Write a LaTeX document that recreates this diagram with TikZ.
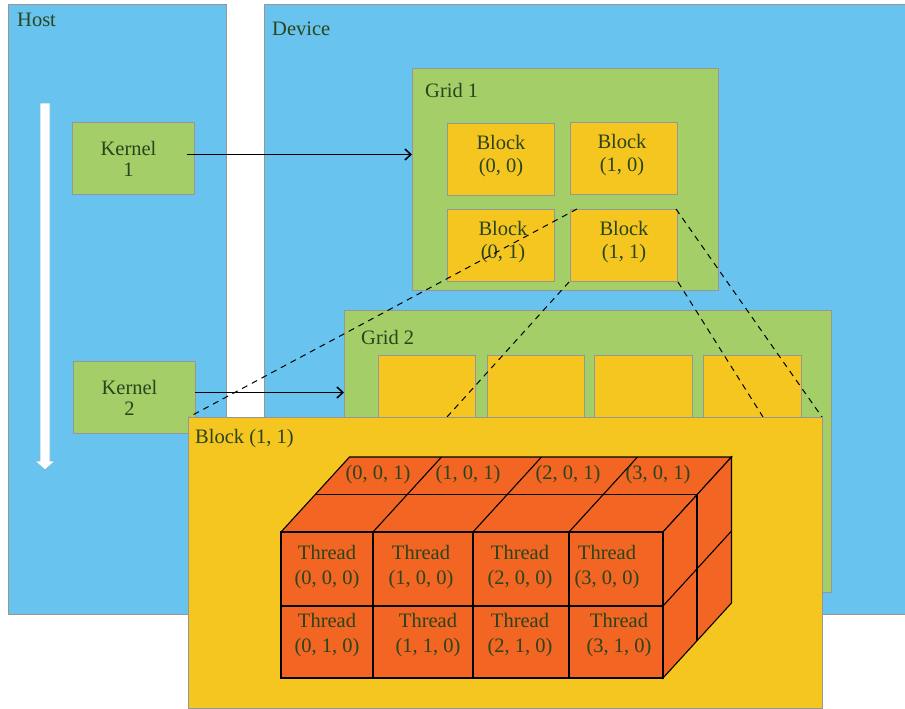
\documentclass[tikz,border=0pt]{standalone}
\usepackage{fontspec}
\setmainfont{Liberation Serif}
\usetikzlibrary{arrows.meta,calc}

\definecolor{skyfill}{RGB}{104,195,238}
\definecolor{leaf}{RGB}{163,206,104}
\definecolor{gold}{RGB}{246,198,32}
\definecolor{tangerine}{RGB}{242,101,34}
\definecolor{edgegray}{RGB}{150,150,150}
\definecolor{ink}{RGB}{42,68,28}
\definecolor{arrowrim}{RGB}{120,190,220}

\begin{document}
\begin{tikzpicture}[x=1pt,y=-1pt,
  region/.style={draw=edgegray, line width=1pt, inner sep=0pt, anchor=north west},
  sized/.style 2 args={minimum width=#1, minimum height=#2},
  lbl/.style={text=ink, inner sep=0pt, font=\fontsize{20.5}{23}\selectfont},
  boxtext/.style={text=ink, align=center, font=\fontsize{20.5}{23}\selectfont},
  kerneltext/.style={text=ink, align=center, font=\fontsize{20.5}{21}\selectfont},
  celltext/.style={text=ink, align=center, inner sep=0pt, font=\fontsize{20.5}{25}\selectfont},
  link/.style={line width=1.5pt, -{Straight Barb[length=6pt,width=11pt]}},
  guide/.style={black, line width=1pt, dash pattern=on 6pt off 5pt},
  cubeface/.style={fill=tangerine, draw=black, line width=1.1pt, line join=miter},
  cubeline/.style={black, line width=1.1pt},
  cubeedge/.style={black, line width=1.6pt}]

\useasboundingbox (0,0) rectangle (905,709);
\fill[white] (0,0) rectangle (905,709);

% host and device areas
\node[region, fill=skyfill, sized={218}{610}] (host) at (8,4) {};
\node[region, fill=skyfill, sized={642}{610}] (device) at (264,4) {};
\node[lbl, anchor=base west] (hostlbl) at (17,27) {Host};
\node[lbl, anchor=base west] (devlbl) at (272,36) {Device};

% time line of the host
\filldraw[fill=white, draw=arrowrim, line width=0.8pt]
  (40,103) -- (50,103) -- (50,461) -- (55,461) -- (45,470) -- (35,461) -- (40,461) -- cycle;

% kernels
\node[region, fill=leaf, sized={122}{72}] (k1) at (72,122) {};
\node[kerneltext] (k1t) at ($(k1.center)+(-5,0)$) {Kernel\\1};
\node[region, fill=leaf, sized={122}{72}] (k2) at (73,361) {};
\node[kerneltext] (k2t) at ($(k2.center)+(-5,0)$) {Kernel\\2};

% grid 1
\node[region, fill=leaf, sized={306}{222}] (g1) at (412,68) {};
\node[lbl, anchor=base west] (g1lbl) at (425,97) {Grid 1};
\node[region, fill=gold, sized={107}{72}] (b00) at (447,123) {};
\node[region, fill=gold, sized={107}{72}] (b10) at (570,122) {};
\node[region, fill=gold, sized={107}{72}] (b01) at (447,209) {};
\node[region, fill=gold, sized={107}{72}] (b11) at (570,209) {};
\node[boxtext] (b00t) at ($(b00.center)+(0,-3)$) {Block\\(0, 0)};
\node[boxtext] (b10t) at ($(b10.center)+(-2,-3)$) {Block\\(1, 0)};
\node[boxtext] (b01t) at ($(b01.center)+(2,-3)$) {Block\\(0, 1)};
\node[boxtext] (b11t) at ($(b11.center)+(0,-3)$) {Block\\(1, 1)};

% grid 2
\node[region, fill=leaf, sized={487}{282}] (g2) at (344,310) {};
\node[lbl, anchor=base west] (g2lbl) at (361,344) {Grid 2};
\node[region, fill=gold, sized={97}{80}] (c0) at (378,355) {};
\node[region, fill=gold, sized={97}{80}] (c1) at (487,355) {};
\node[region, fill=gold, sized={98}{80}] (c2) at (594,355) {};
\node[region, fill=gold, sized={98}{80}] (c3) at (703,355) {};

% zoom guides from block (1, 1) to its enlarged view
\coordinate (pa) at (447,417);
\coordinate (pb) at (763,417);
\coordinate (pnw) at (189,417);
\coordinate (pne) at (822,417);
\draw[guide] ($(b11.north west)+(7,0)$) -- (pnw);
\draw[guide] ($(b11.south west)+(-1,0)$) -- (pa);
\draw[guide] ($(b11.north east)+(-2,0)$) -- (pne);
\draw[guide] (b11.south east) -- (pb);

% kernel launches
\draw[link] ($(k1.east)+(-8,-4)$) -- ($(k1.east -| g1.west)+(0,-4)$);
\draw[link] ($(k2.east)+(-1,-5)$) -- ($(k2.east -| g2.west)+(0,-5)$);

% enlarged block
\node[region, fill=gold, sized={634}{291}] (panel) at (188,417) {};
\node[lbl, anchor=base west] (panellbl) at (195,443) {Block (1, 1)};

% thread cube: faces
\filldraw[cubeface] (281,532) -- (663,532) -- (731.5,457) -- (349.5,457) -- cycle;
\filldraw[cubeface] (663,532) -- (731.5,457) -- (731.5,603) -- (663,678) -- cycle;
\filldraw[cubeface] (281,532) rectangle (663,678);

% thread cube: cell edges
\draw[cubeedge] (373,532) -- (373,678);
\draw[cubeedge] (473,532) -- (473,678);
\draw[cubeedge] (569,532) -- (569,678);
\draw[cubeline] (281,606) -- (663,606);
\draw[cubeline] (315.25,494.5) -- (697.25,494.5);
\draw[cubeline] (373,532) -- (441.5,457);
\draw[cubeline] (473,532) -- (541.5,457);
\draw[cubeline] (569,532) -- (637.5,457);
\draw[cubeedge] (697.25,494.5) -- (697.25,640.5);
\draw[cubeline] (663,606) -- (731.5,531);
\draw[cubeedge] (281,532) rectangle (663,678);

% thread labels
\node[celltext] (t000) at (327,567) {Thread\\(0, 0, 0)};
\node[celltext] (t100) at (421,567) {Thread\\(1, 0, 0)};
\node[celltext] (t200) at (520,567) {Thread\\(2, 0, 0)};
\node[celltext] (t300) at (607,567) {Thread\\(3, 0, 0)};
\node[celltext] (t010) at (327,635) {Thread\\(0, 1, 0)};
\node[celltext] (t110) at (428,635) {Thread\\(1, 1, 0)};
\node[celltext] (t210) at (520,635) {Thread\\(2, 1, 0)};
\node[celltext] (t310) at (619,635) {Thread\\(3, 1, 0)};
\node[celltext] (t001) at (378,475) {(0, 0, 1)};
\node[celltext] (t101) at (468,475) {(1, 0, 1)};
\node[celltext] (t201) at (568,475) {(2, 0, 1)};
\node[celltext] (t301) at (658,475) {(3, 0, 1)};
\end{tikzpicture}
\end{document}
